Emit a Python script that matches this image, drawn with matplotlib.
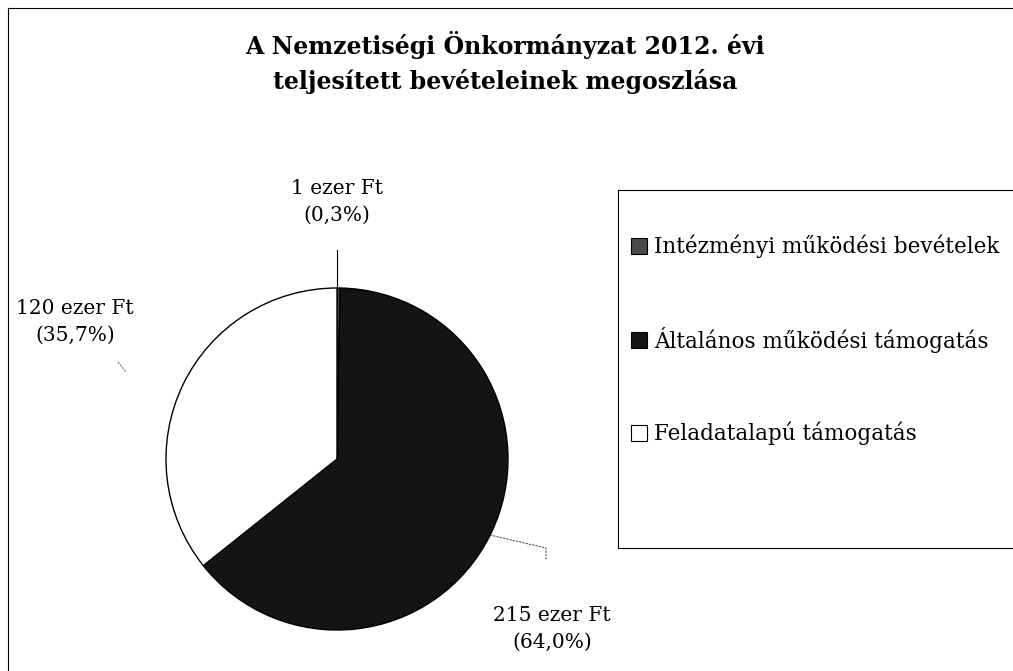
import matplotlib.pyplot as plt
from matplotlib.patches import Rectangle
from matplotlib.lines import Line2D

plt.rcParams['font.family'] = ['DejaVu Serif']

# data
categories = ['Intézményi működési bevételek',
              'Általános működési támogatás',
              'Feladatalapú támogatás']
values = [1, 215, 120]          # ezer Ft
shares = ['0,3', '64,0', '35,7']  # %
colors = ['#4a4a4a', '#141414', '#ffffff']

H = 671
fig = plt.figure(figsize=(10.13, 6.71), dpi=100)
ax = fig.add_axes([0, 0, 1, 1])

wedges, _ = ax.pie(values, colors=colors, startangle=90, counterclock=False,
                   center=(337, H - 459), radius=171, frame=True,
                   wedgeprops=dict(edgecolor='black', linewidth=1.0))
ax.set_xlim(0, 1013)
ax.set_ylim(0, H)
ax.set_aspect('equal')
ax.axis('off')

# outer chart border (only top and left visible)
fig.add_artist(Line2D([8, 1013], [H - 8, H - 8], transform=None, color='black', lw=0.8))
fig.add_artist(Line2D([8, 8], [0, H - 8], transform=None, color='black', lw=0.8))

# title
ax.text(505, H - 45, 'A Nemzetiségi Önkormányzat 2012. évi', ha='center', va='center',
        fontsize=17, fontweight='bold')
ax.text(505, H - 82, 'teljesített bevételeinek megoszlása', ha='center', va='center',
        fontsize=17, fontweight='bold')

# data labels and leader lines
lbl = [f'{v} ezer Ft\n({s}%)' for v, s in zip(values, shares)]
ax.text(337, H - 202, lbl[0], ha='center', va='center', fontsize=14.5, linespacing=1.5)
ax.plot([337, 337], [H - 250, H - 288], color='black', lw=0.8)
ax.text(552, H - 629, lbl[1], ha='center', va='center', fontsize=14.5, linespacing=1.5)
ax.plot([490, 546, 546], [H - 535, H - 548, H - 560], color='#555555', lw=0.8, ls=(0, (2, 1)))
ax.text(75, H - 322, lbl[2], ha='center', va='center', fontsize=14.5, linespacing=1.5)
ax.plot([118, 126], [H - 362, H - 372], color='#777777', lw=0.8, ls=(0, (2, 1)))

# legend box
ax.add_patch(Rectangle((618, H - 548), 420, 358, fill=False, edgecolor='black', lw=0.8,
                       clip_on=False))
handles = [Line2D([], [], marker='s', ls='none', markersize=11, markerfacecolor=c,
                  markeredgecolor='black', markeredgewidth=0.8) for c in colors]
leg = ax.legend(handles, categories, loc='upper left', bbox_to_anchor=(622 / 1013, 1 - 226 / H),
                frameon=False, fontsize=15.5, labelspacing=3.2, handlelength=0.8,
                handletextpad=0.3, borderaxespad=0)

fig.savefig('out.png', dpi=100)
